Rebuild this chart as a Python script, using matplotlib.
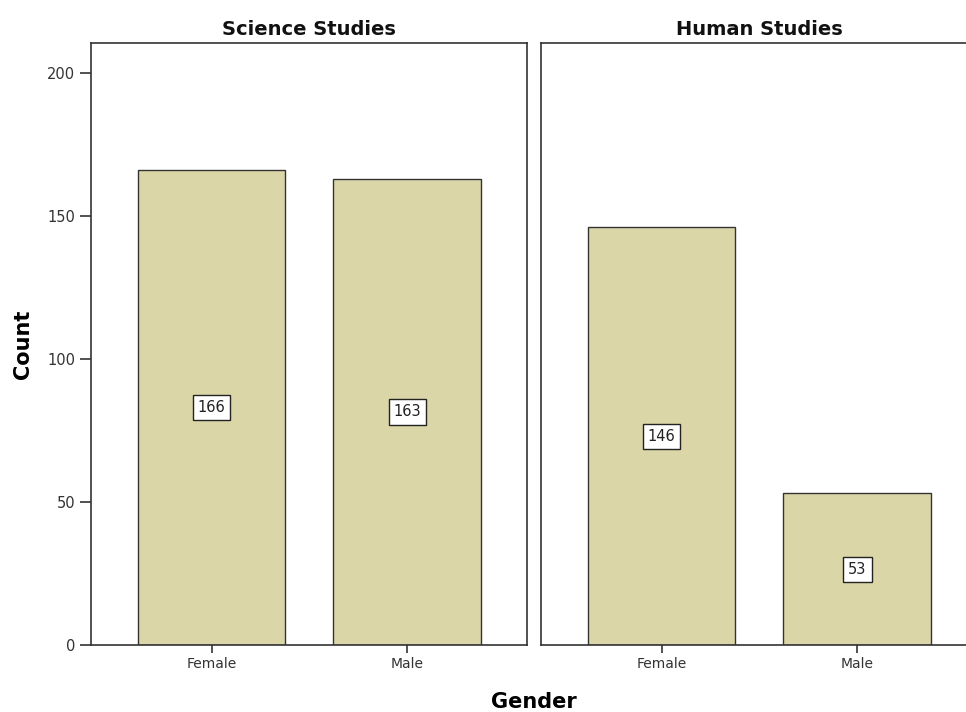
import numpy as np
import matplotlib
matplotlib.use('Agg')
import matplotlib.pyplot as plt

panels = ['Science Studies', 'Human Studies']
genders = ['Female', 'Male']
science_counts = [166, 163]
human_counts = [146, 53]
y_ticks = [0, 50, 100, 150, 200]

bar_color = '#dbd6a7'
edge_color = '#333333'

fig = plt.figure(figsize=(9.66, 7.12), dpi=100)
bottom = 1 - 645 / 712
height = (645 - 43) / 712
ax_left = fig.add_axes([91 / 966, bottom, (527 - 91) / 966, height])
ax_right = fig.add_axes([541 / 966, bottom, (977 - 541) / 966, height])

x = np.arange(len(genders))
for ax, title, counts in zip([ax_left, ax_right], panels, [science_counts, human_counts]):
    ax.bar(x, counts, width=0.755, color=bar_color, edgecolor=edge_color, linewidth=1.0, zorder=2)
    # value label in a white box at mid-height of each bar
    for xi, c in zip(x, counts):
        ax.text(xi, c / 2, str(c), ha='center', va='center', fontsize=10.5, color='#222222',
                bbox=dict(boxstyle='square,pad=0.35', facecolor='white', edgecolor='#222222', linewidth=1.0),
                zorder=3)
    ax.set_xlim(-0.615, 1.61)
    ax.set_ylim(0, 210.5)
    ax.set_xticks(x)
    ax.set_xticklabels(genders, fontsize=10, color='#333333')
    ax.set_title(title, fontsize=14, fontweight='bold', color='#111111', pad=6)
    for s in ax.spines.values():
        s.set_linewidth(1.2)
        s.set_color('#333333')
    ax.tick_params(axis='x', length=6, width=1.2, color='#333333', pad=3)

ax_left.set_yticks(y_ticks)
ax_left.tick_params(axis='y', length=8, width=1.2, color='#333333', labelsize=10.5, labelcolor='#333333')
ax_left.set_ylabel('Count', fontsize=15, fontweight='bold', labelpad=10)
ax_right.set_yticks([])

fig.text(534 / 966, 1 - 702 / 712, 'Gender', ha='center', va='center', fontsize=15, fontweight='bold')

fig.savefig('out.png', dpi=100)
